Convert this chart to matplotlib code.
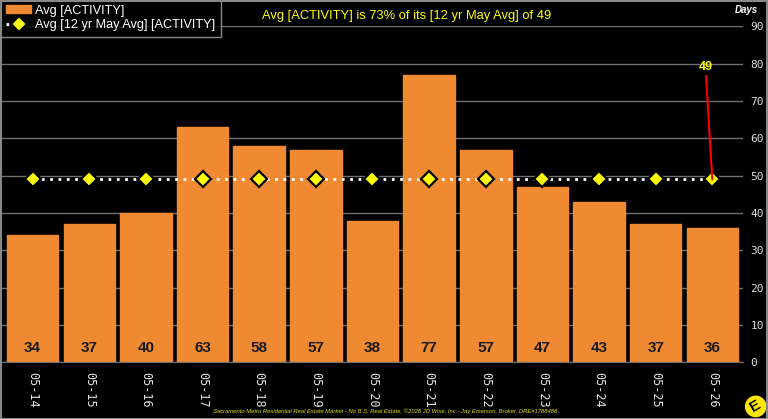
import numpy as np
import matplotlib.pyplot as plt
from matplotlib.patches import Rectangle, Ellipse

# datos del grafico
labels = ["05-14", "05-15", "05-16", "05-17", "05-18", "05-19", "05-20",
          "05-21", "05-22", "05-23", "05-24", "05-25", "05-26"]
activity = [34, 37, 40, 63, 58, 57, 38, 77, 57, 47, 43, 37, 36]
avg12 = [49] * 13
yticks = [0, 10, 20, 30, 40, 50, 60, 70, 80, 90]

title = "Avg [ACTIVITY] is 73% of its [12 yr May Avg] of 49"
footer = ("Sacramento Metro Residential Real Estate Market - No B.S. Real Estate, "
          "\u00a92026 JD Wise, Inc - Jay Emerson, Broker, DRE#1788488")

plt.rcParams['font.family'] = ['Liberation Sans', 'DejaVu Sans']

fig = plt.figure(figsize=(7.68, 4.19), dpi=100, facecolor="black")
ax = fig.add_axes([0.002, 0.135, 0.966, 0.802])
ax.set_facecolor("black")

x = np.arange(len(labels))
bars = ax.bar(x, activity, width=0.91, color="#EF8A33", edgecolor="#EF8A33",
              zorder=2, label="Avg [ACTIVITY]")
line, = ax.plot(x, avg12, color="white", linestyle=(0, (1, 2.0)), linewidth=2.0,
                marker="D", markersize=8, markerfacecolor="#FFFF00",
                markeredgecolor="black", markeredgewidth=1.6, zorder=3,
                label="Avg [12 yr May Avg] [ACTIVITY]")

for xi, v in zip(x, activity):
    ax.text(xi, 3.8, str(v), ha="center", va="center", fontsize=11,
            fontweight="bold", color="#1A1A1A", zorder=4)

# anotacion del ultimo valor
ax.annotate("49", xy=(x[-1], avg12[-1]), xytext=(x[-1] - 0.12, 77.5),
            ha="center", va="bottom", color="#FFFF00", fontsize=9,
            fontweight="bold",
            arrowprops=dict(arrowstyle="-", color="red", lw=1.5,
                            shrinkA=0, shrinkB=0))

ax.set_xlim(-0.55, 12.55)
ax.set_ylim(0, 90)
ax.set_yticks(yticks)
ax.yaxis.tick_right()
ax.grid(axis="y", color="#707070", linewidth=1, zorder=0)
ax.set_axisbelow(True)
ax.tick_params(axis="y", length=0, colors="#DDDDDD", labelsize=8, pad=5)
ax.tick_params(axis="x", length=0, colors="#E6E6E6", labelsize=8.5, pad=7)
for t in ax.get_yticklabels():
    t.set_family("DejaVu Sans Mono")
ax.set_xticks(x)
ax.set_xticklabels(labels, rotation=-90, family="DejaVu Sans Mono")
for s in ax.spines.values():
    s.set_visible(False)
ax.spines["bottom"].set_visible(True)
ax.spines["bottom"].set_color("#707070")

leg = ax.legend([bars, line], ["Avg [ACTIVITY]", "Avg [12 yr May Avg] [ACTIVITY]"],
                loc="upper left", bbox_to_anchor=(-0.002, 1.081), frameon=True,
                fontsize=9.2, labelcolor="white", facecolor="black",
                edgecolor="#AAAAAA", fancybox=False, borderpad=0.45,
                handlelength=2.0, handleheight=0.6, handletextpad=0.3,
                labelspacing=0.2, borderaxespad=0)
leg.get_frame().set_linewidth(1)
leg.set_zorder(10)

fig.text(0.53, 0.962, title, ha="center", va="center", color="#FFFF00",
         fontsize=9.3)
fig.text(0.987, 0.977, "Days", ha="right", va="center", color="white",
         fontsize=7, fontweight="bold", style="italic")
fig.text(0.502, 0.018, footer, ha="center", va="center", color="#E0E000",
         fontsize=4.2, style="italic")

# logo
fig.patches.append(Ellipse((0.984, 0.03), 0.03, 0.055, transform=fig.transFigure,
                           facecolor="#FFE600", edgecolor="black", lw=1))
fig.text(0.984, 0.03, "E", ha="center", va="center", fontsize=11,
         fontweight="bold", color="black", rotation=30)

# borde exterior
fig.patches.append(Rectangle((0.001, 0.001), 0.998, 0.997,
                             transform=fig.transFigure, fill=False,
                             edgecolor="#888888", lw=1.5))

plt.savefig("out.png", dpi=100, facecolor="black")
plt.close()
